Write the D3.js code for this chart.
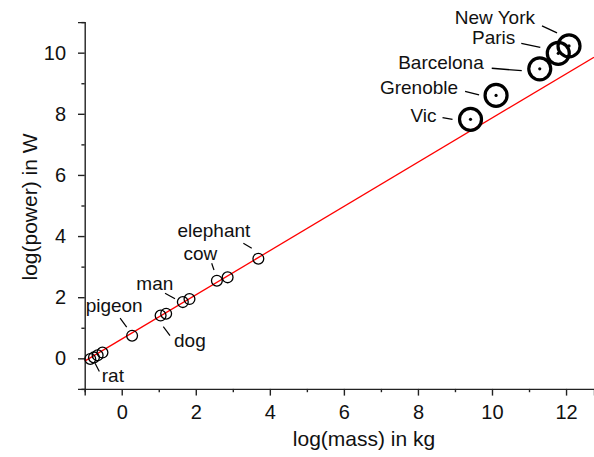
<!DOCTYPE html>
<html>
<head>
<meta charset="utf-8">
<script src="https://cdn.jsdelivr.net/npm/d3@7"></script>
<style>
  body { margin: 0; background: #fff; }
  svg text { font-family: "Liberation Sans", Arial, sans-serif; fill: #111; }
</style>
</head>
<body>
<div id="chart"></div>
<script>
// log10 values
const animalMass = [-0.85, -0.75, -0.65, -0.52, 0.28, 1.05, 1.20, 1.65, 1.83, 2.57, 2.86, 3.69];
const animalPower = [-0.02, 0.03, 0.10, 0.19, 0.74, 1.40, 1.46, 1.84, 1.94, 2.54, 2.65, 3.26];
const animalNames = ['rat', 'pigeon', 'dog', 'man', 'cow', 'elephant'];
const animalNameIndex = [0, 4, 5, 7, 9, 11];

const cityNames = ['Vic', 'Grenoble', 'Barcelona', 'Paris', 'New York'];
const cityMass = [9.42, 10.11, 11.29, 11.79, 12.08];
const cityPower = [7.82, 8.60, 9.47, 9.98, 10.22];

const fitSlope = 0.723;
const fitIntercept = 0.63;

const xTicks = d3.range(-1, 13);
const yTicks = d3.range(-1, 12);

// label placement (pixels, relative to the point the label belongs to)
const animalLabelPos = [
    {anchor: 'start', dx: 11.5, dy: 22.6, l: [4.8, 4.3, 9.1, 12.6]},
    {anchor: 'end', dx: 10.6, dy: -24, l: [-12, -17.5, -5.4, -8.5]},
    {anchor: 'start', dx: 13.4, dy: 31, l: [2.7, 11, 9.4, 20]},
    {anchor: 'end', dx: -9.5, dy: -12, l: [-17.8, -8.9, -7.8, -3.3]},
    {anchor: 'end', dx: 0.4, dy: -21, l: [-5.2, -17.4, -2.9, -10.7]},
    {anchor: 'end', dx: -8, dy: -22, l: [-15, -15.4, -6.6, -10.4]},
];
const cityLabelPos = [
    {dx: -34, dy: 2.4, l: [-28, -1.6, -18, 0]},
    {dx: -38, dy: -1.5, l: [-31, -4, -17, -0.5]},
    {dx: -56, dy: 0, l: [-48, -0.6, -18, 1.8]},
    {dx: -43, dy: -9, l: [-37, -10, -18, -6]},
    {dx: -34, dy: -22, l: [-27, -20, -12, -13]},
];

const width = 594;
const height = 457;
const labelSize = 19;

const x = d3.scaleLinear().domain([-1, 12.755]).range([84.7, 594]);
const y = d3.scaleLinear().domain([-1, 11]).range([388.9, 22.1]);

const svg = d3.select('#chart').append('svg')
    .attr('width', width)
    .attr('height', height);

svg.append('clipPath').attr('id', 'plot-clip')
    .append('rect')
    .attr('x', x(-1)).attr('y', y(11))
    .attr('width', x(12.755) - x(-1)).attr('height', y(-1) - y(11));

// axes
const xAxis = svg.append('g')
    .attr('transform', `translate(0,${y(-1)})`)
    .call(d3.axisBottom(x).tickValues(xTicks).tickSizeOuter(0).tickSize(6.7).tickPadding(9)
        .tickFormat(d => d % 2 === 0 ? d : ''));

const yAxis = svg.append('g')
    .attr('transform', `translate(${x(-1)},0)`)
    .call(d3.axisLeft(y).tickValues(yTicks).tickSizeOuter(0).tickSize(6.7).tickPadding(12)
        .tickFormat(d => d % 2 === 0 ? d : ''));

[xAxis, yAxis].forEach(ax => {
    ax.select('.domain').attr('stroke', '#222').attr('stroke-width', 1.4);
    ax.selectAll('.tick line').attr('stroke', '#222').attr('stroke-width', 1.4);
    ax.selectAll('.tick text').attr('font-size', 20).attr('fill', '#111')
        .attr('font-family', '"Liberation Sans", Arial, sans-serif');
});
xAxis.selectAll('.tick line').filter(d => d % 2 !== 0).attr('y2', 3.3);
yAxis.selectAll('.tick line').filter(d => d % 2 !== 0).attr('x2', -3.3);

svg.append('text')
    .attr('x', 364).attr('y', 446)
    .attr('text-anchor', 'middle')
    .attr('font-size', 21)
    .text('log(mass) in kg');

svg.append('text')
    .attr('transform', 'translate(37,207) rotate(-90)')
    .attr('text-anchor', 'middle')
    .attr('font-size', 21)
    .text('log(power) in W');

// fitted line
const fitX = x.domain();
svg.append('line')
    .attr('clip-path', 'url(#plot-clip)')
    .attr('x1', x(fitX[0])).attr('y1', y(fitSlope * fitX[0] + fitIntercept))
    .attr('x2', x(fitX[1])).attr('y2', y(fitSlope * fitX[1] + fitIntercept))
    .attr('stroke', '#ff0000')
    .attr('stroke-width', 1.3);

// animals
svg.append('g').selectAll('circle')
    .data(animalMass)
    .enter().append('circle')
    .attr('cx', d => x(d))
    .attr('cy', (d, i) => y(animalPower[i]))
    .attr('r', 5.4)
    .attr('fill', 'none')
    .attr('stroke', '#000')
    .attr('stroke-width', 1.3);

animalNames.forEach((name, i) => {
    const k = animalNameIndex[i];
    const px = x(animalMass[k]);
    const py = y(animalPower[k]);
    const p = animalLabelPos[i];
    svg.append('line')
        .attr('x1', px + p.l[0]).attr('y1', py + p.l[1])
        .attr('x2', px + p.l[2]).attr('y2', py + p.l[3])
        .attr('stroke', '#000').attr('stroke-width', 1.2);
    svg.append('text')
        .attr('x', px + p.dx).attr('y', py + p.dy)
        .attr('text-anchor', p.anchor)
        .attr('font-size', labelSize)
        .text(name);
});

// cities
const cities = svg.append('g').selectAll('g')
    .data(cityNames)
    .enter().append('g');

cities.append('circle')
    .attr('cx', (d, i) => x(cityMass[i]))
    .attr('cy', (d, i) => y(cityPower[i]))
    .attr('r', 11)
    .attr('fill', 'none')
    .attr('stroke', '#000')
    .attr('stroke-width', 3.2);

cities.append('circle')
    .attr('cx', (d, i) => x(cityMass[i]))
    .attr('cy', (d, i) => y(cityPower[i]))
    .attr('r', 1.6)
    .attr('fill', '#000');

cities.append('line')
    .attr('x1', (d, i) => x(cityMass[i]) + cityLabelPos[i].l[0])
    .attr('y1', (d, i) => y(cityPower[i]) + cityLabelPos[i].l[1])
    .attr('x2', (d, i) => x(cityMass[i]) + cityLabelPos[i].l[2])
    .attr('y2', (d, i) => y(cityPower[i]) + cityLabelPos[i].l[3])
    .attr('stroke', '#000').attr('stroke-width', 1.3);

cities.append('text')
    .attr('x', (d, i) => x(cityMass[i]) + cityLabelPos[i].dx)
    .attr('y', (d, i) => y(cityPower[i]) + cityLabelPos[i].dy)
    .attr('text-anchor', 'end')
    .attr('font-size', labelSize)
    .text(d => d);
</script>
</body>
</html>
